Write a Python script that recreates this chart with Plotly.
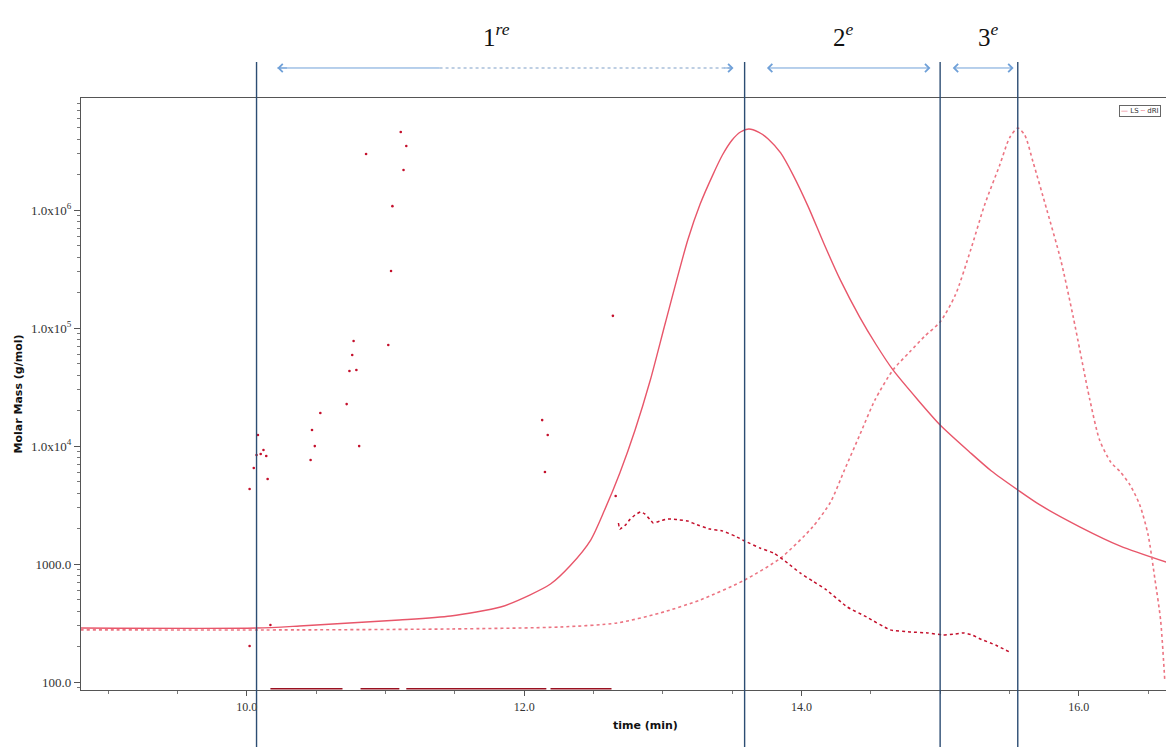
import plotly.graph_objects as go

# ---------------- data ----------------
# LS detector trace (solid)
ls_time = [8.80, 10.07, 10.38, 10.74, 11.10, 11.47, 11.83, 12.04, 12.19, 12.33, 12.48, 12.58,
           12.69, 12.80, 12.91, 13.02, 13.18, 13.27, 13.36, 13.43, 13.50, 13.56, 13.62, 13.69,
           13.76, 13.85, 13.94, 14.05, 14.16, 14.28, 14.42, 14.54, 14.66, 14.84, 15.00, 15.22,
           15.37, 15.56, 15.72, 16.01, 16.30, 16.63]
ls_value = [287, 287, 299, 317, 336, 363, 433, 547, 678, 964, 1600, 2870,
            5920, 13700, 36300, 112700, 558000, 1.13e6, 1.98e6, 2.93e6, 3.93e6, 4.59e6, 4.87e6, 4.59e6,
            4.01e6, 3.05e6, 1.98e6, 1.06e6, 526000, 256000, 124000, 71900, 44200, 24600, 15100, 8750,
            6150, 4250, 3170, 2060, 1420, 1040]

# dRI detector trace (dotted)
dri_time = [8.80, 10.38, 11.47, 12.26, 12.67, 12.98, 13.27, 13.59, 13.85, 14.08, 14.21, 14.31,
            14.42, 14.53, 14.66, 14.78, 14.89, 15.00, 15.11, 15.22, 15.32, 15.43, 15.50, 15.56,
            15.61, 15.67, 15.77, 15.87, 15.96, 16.08, 16.15, 16.23, 16.30, 16.37, 16.44, 16.50,
            16.55, 16.59, 16.62]
dri_value = [277, 277, 282, 293, 317, 385, 497, 733, 1127, 2060, 3360, 6270,
             12400, 24600, 44200, 62700, 85700, 112700, 191000, 459000, 1.10e6, 2.41e6, 4.08e6, 4.96e6,
             4.33e6, 2.56e6, 1.00e6, 378000, 124000, 24600, 11270, 7330, 6040, 4680, 3170, 1770,
             733, 336, 104]

# Molar mass, dense part
mm_time = [12.68, 12.69, 12.73, 12.76, 12.80, 12.84, 12.87, 12.91, 12.93, 12.98, 13.03, 13.07,
           13.12, 13.18, 13.23, 13.34, 13.43, 13.52, 13.59, 13.70, 13.80, 13.90, 13.99, 14.08,
           14.18, 14.33, 14.47, 14.64, 14.78, 14.91, 15.02, 15.11, 15.17, 15.23, 15.29, 15.40, 15.50]
mm_value = [2230, 1980, 2140, 2370, 2610, 2770, 2660, 2370, 2230, 2320, 2410, 2410,
            2370, 2320, 2190, 1980, 1910, 1730, 1570, 1370, 1240, 1020, 841, 719,
            604, 433, 356, 277, 266, 261, 251, 256, 261, 251, 232, 206, 180]

# Molar mass, scattered early points
mms_time = [10.02, 10.05, 10.07, 10.08, 10.10, 10.12, 10.14, 10.15, 10.17, 10.02,
            10.46, 10.47, 10.49, 10.53, 10.72, 10.74, 10.76, 10.77, 10.79, 10.81, 10.86,
            11.02, 11.04, 11.05, 11.11, 11.13, 11.15, 12.13, 12.17, 12.15, 12.64, 12.66]
mms_value = [4330, 6520, 8410, 12400, 8570, 9270, 8250, 5260, 305, 202,
             7620, 13700, 10000, 19100, 22700, 43300, 59200, 77800, 44200, 10000, 2.99e6,
             71900, 305000, 1.08e6, 4.59e6, 2.19e6, 3.49e6, 16600, 12400, 6040, 127000, 3780]

# Molar mass points lying at the bottom of the scale (segments)
mmlow_time = [10.17, 10.69, None, 10.82, 11.10, None, 11.15, 12.16, None, 12.19, 12.63]
mmlow_value = [88, 88, None, 88, 88, None, 88, 88, None, 88, 88]

# slice boundaries (min) and slice labels
bound_time = [10.07, 13.59, 15.00, 15.56]
arrow_start = [10.22, 13.74, 15.08]
arrow_end = [13.51, 14.93, 15.53]
arrow1_dotted_from = 11.39
slice_label_time = [11.80, 14.30, 15.35]
slice_labels = ["1<sup><i>re</i></sup>", "2<sup><i>e</i></sup>", "3<sup><i>e</i></sup>"]

x_ticks = [10, 12, 14, 16]
x_ticktext = ["10.0", "12.0", "14.0", "16.0"]
y_ticks = [100, 1000, 1e4, 1e5, 1e6]
y_ticktext = ["100.0", "1000.0", "1.0x10<sup>4</sup>", "1.0x10<sup>5</sup>", "1.0x10<sup>6</sup>"]
y_minor = [k * 10 ** e for e in range(1, 7) for k in range(2, 10)]

# ---------------- figure ----------------
LS_COL = "#e8566a"
DRI_COL = "#ec7482"
MM_COL = "#c4102c"
LINE_BLUE = "#2c4d73"
ARROW_BLUE = "#6fa0d8"
ARROW_Y = 1.0507

fig = go.Figure()
fig.add_trace(go.Scatter(x=ls_time, y=ls_value, mode="lines", name="LS",
                         line=dict(color=LS_COL, width=1.4, shape="spline", smoothing=0.7)))
fig.add_trace(go.Scatter(x=dri_time, y=dri_value, mode="lines", name="dRI",
                         line=dict(color=DRI_COL, width=1.6, dash="dot", shape="spline", smoothing=0.7)))
fig.add_trace(go.Scatter(x=mm_time, y=mm_value, mode="lines", name="Molar mass",
                         line=dict(color=MM_COL, width=1.5, dash="dot", shape="spline", smoothing=0.4)))
fig.add_trace(go.Scatter(x=mms_time, y=mms_value, mode="markers", name="Molar mass ",
                         marker=dict(color=MM_COL, size=2.6)))
fig.add_trace(go.Scatter(x=mmlow_time, y=mmlow_value, mode="lines", name="Molar mass low",
                         line=dict(color="#9a1020", width=1.5), cliponaxis=False))

for t in bound_time:
    fig.add_shape(type="line", xref="x", yref="paper", x0=t, x1=t, y0=-0.1, y1=1.061,
                  line=dict(color=LINE_BLUE, width=1.4), layer="above")

# first arrow: solid then dotted shaft, heads drawn as short arrows
fig.add_shape(type="line", xref="x", yref="paper", x0=arrow_start[0], x1=arrow1_dotted_from,
              y0=ARROW_Y, y1=ARROW_Y, line=dict(color=ARROW_BLUE, width=1))
fig.add_shape(type="line", xref="x", yref="paper", x0=arrow1_dotted_from, x1=arrow_end[0],
              y0=ARROW_Y, y1=ARROW_Y, line=dict(color="#7f9fc8", width=1.2, dash="dot"))
fig.add_annotation(x=arrow_start[0], y=ARROW_Y, xref="x", yref="paper", ax=arrow_start[0] + 0.08, ay=0,
                   axref="x", ayref="pixel", text="", showarrow=True, arrowhead=4,
                   arrowsize=1.6, arrowwidth=1, arrowcolor=ARROW_BLUE)
fig.add_annotation(x=arrow_end[0], y=ARROW_Y, xref="x", yref="paper", ax=arrow_end[0] - 0.08, ay=0,
                   axref="x", ayref="pixel", text="", showarrow=True, arrowhead=4,
                   arrowsize=1.6, arrowwidth=1, arrowcolor=ARROW_BLUE)

for a, b in zip(arrow_start[1:], arrow_end[1:]):
    fig.add_annotation(x=b, y=ARROW_Y, xref="x", yref="paper", ax=a, ay=0, axref="x", ayref="pixel",
                       text="", showarrow=True, arrowhead=4, arrowside="end+start",
                       arrowsize=1.6, arrowwidth=1, arrowcolor=ARROW_BLUE)

for t, lab in zip(slice_label_time, slice_labels):
    fig.add_annotation(x=t, y=1.106, xref="x", yref="paper", yanchor="middle", text=lab,
                       showarrow=False, font=dict(family="Liberation Serif", size=25, color="#111"))

# x-axis title placed like the reference
fig.add_annotation(x=0.52, y=-0.045, xref="paper", yref="paper", yanchor="top",
                   text="<b>time (min)</b>", showarrow=False,
                   font=dict(family="DejaVu Sans", size=11, color="#111"))

# small legend box at the top right
fig.add_annotation(x=0.995, y=0.988, xref="paper", yref="paper", xanchor="right", yanchor="top",
                   text="<span style='color:%s'>\u2014</span> LS <span style='color:%s'>\u2504</span> dRI" % (LS_COL, DRI_COL),
                   showarrow=False, font=dict(family="DejaVu Sans", size=7, color="#333"),
                   bordercolor="#666", borderwidth=1, borderpad=1, bgcolor="white")

fig.update_layout(
    width=1166, height=747,
    margin=dict(l=81, r=0, t=98, b=57),
    paper_bgcolor="white", plot_bgcolor="white",
    showlegend=False,
    xaxis=dict(range=[8.804, 16.629], tickvals=x_ticks, ticktext=x_ticktext,
               showgrid=False, zeroline=False, showline=True, linecolor="#555", linewidth=1.2,
               mirror=True, ticks="outside", ticklen=5, tickcolor="#555",
               minor=dict(dtick=0.5, tick0=0, ticks="outside", ticklen=3, tickcolor="#777"),
               tickfont=dict(family="Liberation Serif", size=12, color="#333")),
    yaxis=dict(type="log", range=[1.933, 6.95], tickvals=y_ticks, ticktext=y_ticktext,
               showgrid=False, zeroline=False, showline=True, linecolor="#555", linewidth=1.2,
               ticks="outside", ticklen=6, tickcolor="#555",
               minor=dict(tickvals=y_minor, ticks="outside", ticklen=3, tickcolor="#777"),
               tickfont=dict(family="Liberation Serif", size=13, color="#333"),
               title=dict(text="<b>Molar Mass (g/mol)</b>", standoff=6,
                          font=dict(family="DejaVu Sans", size=11, color="#111"))),
)

fig.write_html("out.html", config={"displayModeBar": False},
               post_script="document.body.style.margin='0';document.body.style.overflow='hidden';")
